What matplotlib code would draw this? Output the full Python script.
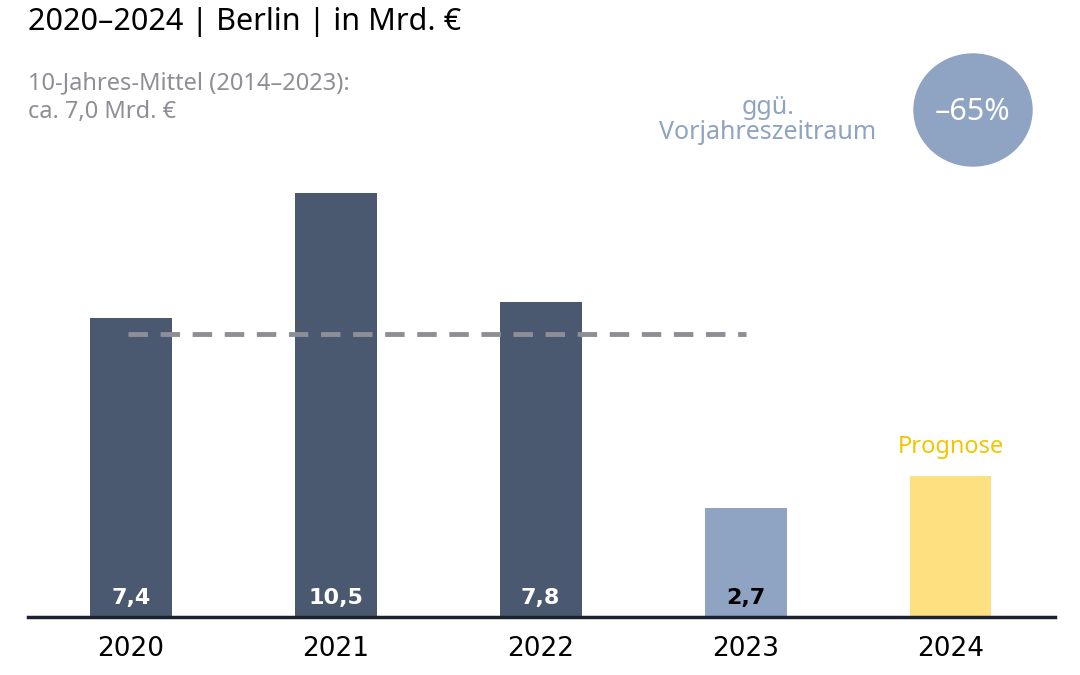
import matplotlib
matplotlib.use("Agg")
import matplotlib.pyplot as plt
from matplotlib.patches import Ellipse

years = ["2020", "2021", "2022", "2023", "2024"]
values = [7.4, 10.5, 7.8, 2.7, 3.5]
labels = ["7,4", "10,5", "7,8", "2,7", ""]
colors = ["#4a5870", "#4a5870", "#4a5870", "#8fa3c2", "#fde07f"]
avg = 7.0

plt.rcParams["font.family"] = "Noto Sans"
fig = plt.figure(figsize=(10.8, 6.75), dpi=100)
ax = fig.add_axes([28/1080, 58/675, 1027/1080, 606/675])
x = range(len(years))
ax.bar(x, values, width=0.4, color=colors, zorder=2)
ax.set_xlim(-0.502, 4.51)
ax.set_ylim(0, 15)
for i, l in enumerate(labels):
    if l:
        ax.text(i, 0.48, l, ha="center", va="center", fontsize=16, fontweight="bold",
                color="black" if i == 3 else "white", family="DejaVu Sans")
ax.plot([-0.015, 3.0], [avg, avg], ls=(0, (4, 2.6)), lw=3.5, color="#8e8e96", zorder=3)
ax.text(4, 4.2, "Prognose", ha="center", va="center", fontsize=17, fontweight="bold", color="#f5c400")
for s in ["top", "right", "left"]:
    ax.spines[s].set_visible(False)
ax.spines["bottom"].set_linewidth(2.5)
ax.spines["bottom"].set_color("#1c2130")
ax.set_yticks([])
ax.set_xticks(list(x))
ax.set_xticklabels(years, fontsize=19, family="DejaVu Sans")
ax.tick_params(axis="x", length=0, pad=14)

fig.text(28/1080, 1 - 98/675, "10-Jahres-Mittel (2014–2023):\nca. 7,0 Mrd. €", fontsize=17,
         fontweight="bold", color="#8e8e96", va="center", ha="left", linespacing=1.25)
fig.text(768/1080, 1 - 120/675, "ggü.\nVorjahreszeitraum", fontsize=18, color="#8fa3c2",
         ha="center", va="center", linespacing=1.05)
fig.patches.append(Ellipse((973/1080, 1 - 110/675), 118/1080, 112/675, transform=fig.transFigure,
                           color="#8fa3c2", zorder=1))
fig.text(973/1080, 1 - 112/675, "–65%", fontsize=22, fontweight="bold", color="white",
         ha="center", va="center", zorder=2)
fig.text(28/1080, 1 - 22/675, "2020–2024 | Berlin | in Mrd. €", fontsize=22, color="black",
         ha="left", va="center")
fig.savefig("out.png", dpi=100)
